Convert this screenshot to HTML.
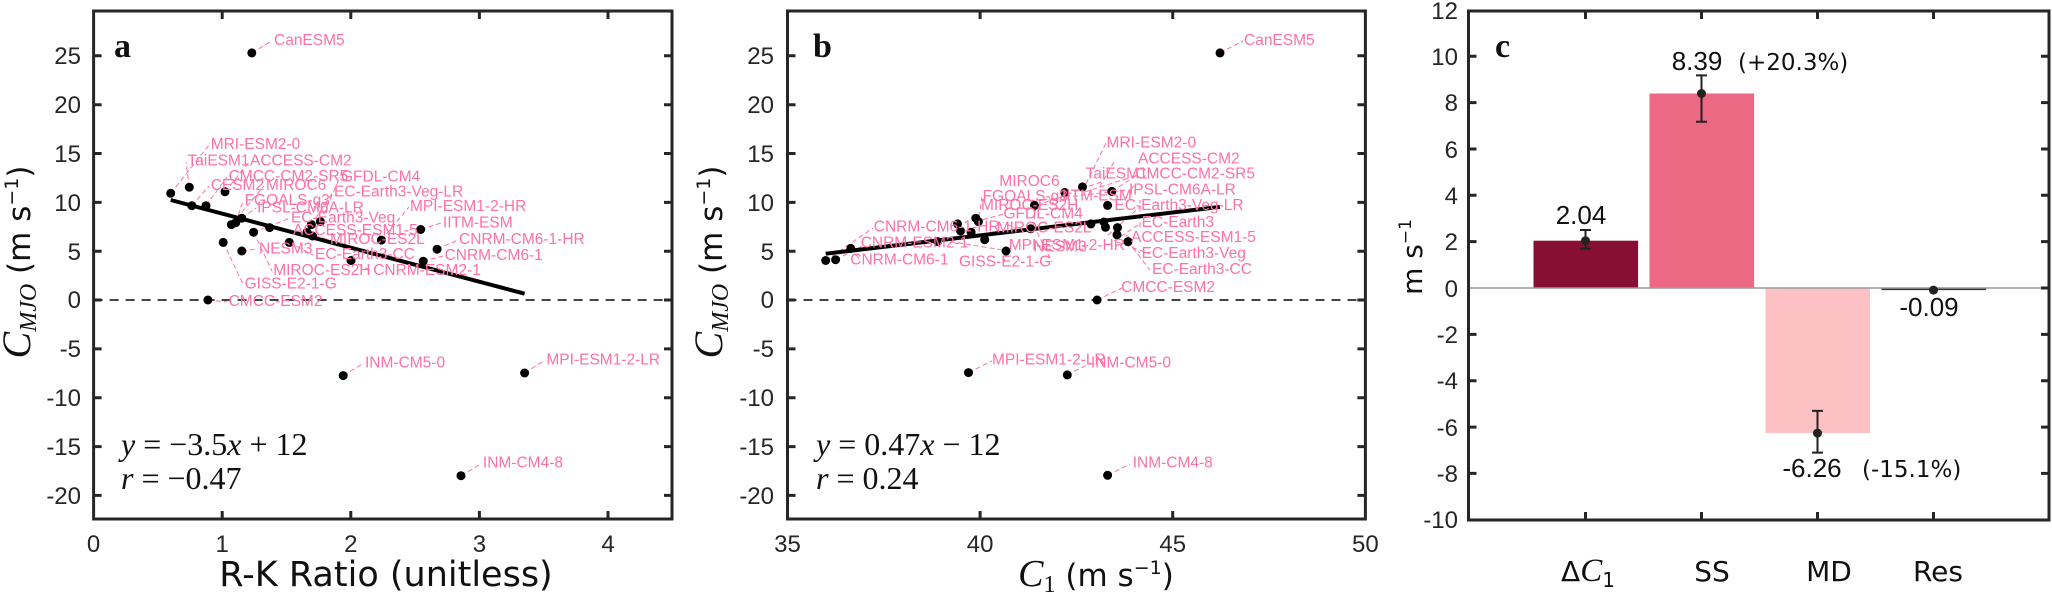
<!DOCTYPE html>
<html><head><meta charset="utf-8"><style>
body{margin:0;background:#fff;}
svg{display:block;}
.tk{font-family:"Liberation Sans",sans-serif;font-size:24px;fill:#262626;}
.lb{font-family:"Liberation Sans",sans-serif;font-size:15.5px;fill:#ff70a6;}
.sr{font-family:"Liberation Serif",serif;fill:#111;}
</style></head><body>
<svg width="2052" height="592" viewBox="0 0 2052 592" xmlns="http://www.w3.org/2000/svg">
<!-- ===== Panel a ===== -->
<g id="pa">
<line x1="93.6" y1="300" x2="672" y2="300" stroke="#444" stroke-width="2" stroke-dasharray="9,7"/>
<g stroke="#ff70a6" stroke-width="1" stroke-dasharray="5,3" fill="none">
<path d="M251.8 52.9 L272 40.8 M170.7 193.3 L209 145 M189.3 187.2 L186 162 M191.8 205.7 L209 186 M206 205.7 L227 177 M225 191.8 L249 162 M231.4 224.6 L264 186 M235.7 222.7 L243 201 M241.8 218.2 L256 208 M253.6 232.2 L290 218 M269.6 227.6 L291 231 M311.4 224.6 L333 192 M320.4 221.6 L340 177 M307.1 232.2 L329 240 M289.3 242.4 L313 255 M241.8 251 L258 249 M223.2 242.4 L243 284 M253.6 232.2 L272 271 M207.9 300 L227 302 M381.4 240.1 L409 207 M420.7 229.5 L441 223 M437.1 249.2 L458 240 M423.2 261.2 L443 256 M351 260.5 L372 271 M343.2 375.6 L364 363 M524.6 373 L545 360 M461 475.7 L481 464"/>
</g>
<line x1="170.7" y1="200" x2="524.6" y2="293.7" stroke="#000" stroke-width="4"/>
<g fill="#000">
<circle cx="170.7" cy="193.3" r="4.5"/><circle cx="189.3" cy="187.2" r="4.5"/><circle cx="191.8" cy="205.7" r="4.5"/><circle cx="206" cy="205.7" r="4.5"/><circle cx="225" cy="191.8" r="4.5"/><circle cx="231.4" cy="224.6" r="4.5"/><circle cx="235.7" cy="222.7" r="4.5"/><circle cx="241.8" cy="218.2" r="4.5"/><circle cx="253.6" cy="232.2" r="4.5"/><circle cx="269.6" cy="227.6" r="4.5"/><circle cx="223.2" cy="242.4" r="4.5"/><circle cx="241.8" cy="251" r="4.5"/><circle cx="289.3" cy="242.4" r="4.5"/><circle cx="307.1" cy="232.2" r="4.5"/><circle cx="311.4" cy="224.6" r="4.5"/><circle cx="320.4" cy="221.6" r="4.5"/><circle cx="312.5" cy="236" r="4.5"/><circle cx="351" cy="260.5" r="4.5"/><circle cx="381.4" cy="240.1" r="4.5"/><circle cx="420.7" cy="229.5" r="4.5"/><circle cx="437.1" cy="249.2" r="4.5"/><circle cx="423.2" cy="261.2" r="4.5"/><circle cx="207.9" cy="300" r="4.5"/><circle cx="251.8" cy="52.9" r="4.5"/><circle cx="343.2" cy="375.6" r="4.5"/><circle cx="524.6" cy="373" r="4.5"/><circle cx="461" cy="475.7" r="4.5"/>
</g>
<g class="lb" dominant-baseline="middle">
<text x="274" y="41">CanESM5</text><text x="210.7" y="145">MRI-ESM2-0</text><text x="187.5" y="161.6">TaiESM1</text><text x="250" y="161.6">ACCESS-CM2</text><text x="228.6" y="176.7">CMCC-CM2-SR5</text><text x="341" y="177.4">GFDL-CM4</text><text x="210.7" y="185.7">CESM2</text><text x="266" y="185.7">MIROC6</text><text x="334" y="192.5">EC-Earth3-Veg-LR</text><text x="244.6" y="200.8">FGOALS-g3</text><text x="257" y="208.4">IPSL-CM6A-LR</text><text x="410" y="206.9">MPI-ESM1-2-HR</text><text x="291" y="218.2">EC-Earth3-Veg</text><text x="442.9" y="223.5">IITM-ESM</text><text x="292.9" y="231">ACCESS-ESM1-5</text><text x="330" y="239.7">MIROC-ES2L</text><text x="459" y="239.7">CNRM-CM6-1-HR</text><text x="259" y="249.2">NESM3</text><text x="315" y="254.8">EC-Earth3-CC</text><text x="444.6" y="256">CNRM-CM6-1</text><text x="273.2" y="270.7">MIROC-ES2H</text><text x="373.2" y="270.7">CNRM-ESM2-1</text><text x="244.6" y="284.3">GISS-E2-1-G</text><text x="228.6" y="302">CMCC-ESM2</text><text x="365" y="363.2">INM-CM5-0</text><text x="546.4" y="360.5">MPI-ESM1-2-LR</text><text x="482.9" y="463.6">INM-CM4-8</text>
</g>
<rect x="93.6" y="11" width="578.4" height="508" fill="none" stroke="#262626" stroke-width="3"/>
<g stroke="#262626" stroke-width="3">
<path d="M93.6 55.8h8M93.6 104.7h8M93.6 153.5h8M93.6 202.4h8M93.6 251.2h8M93.6 300h8M93.6 348.9h8M93.6 397.7h8M93.6 446.6h8M93.6 495.4h8"/>
<path d="M672 55.8h-8M672 104.7h-8M672 153.5h-8M672 202.4h-8M672 251.2h-8M672 300h-8M672 348.9h-8M672 397.7h-8M672 446.6h-8M672 495.4h-8"/>
<path d="M222.2 519v-8M350.8 519v-8M479.4 519v-8M608 519v-8M222.2 11v8M350.8 11v8M479.4 11v8M608 11v8"/>
</g>
<g class="tk" text-anchor="end">
<text x="81" y="64">25</text><text x="81" y="113">20</text><text x="81" y="162">15</text><text x="81" y="211">10</text><text x="81" y="260">5</text><text x="81" y="308">0</text><text x="81" y="357">-5</text><text x="81" y="406">-10</text><text x="81" y="455">-15</text><text x="81" y="504">-20</text>
</g>
<g class="tk" text-anchor="middle">
<text x="93.6" y="552">0</text><text x="222.2" y="552">1</text><text x="350.8" y="552">2</text><text x="479.4" y="552">3</text><text x="608" y="552">4</text>
</g>
<text x="386" y="586" text-anchor="middle" font-family="'DejaVu Sans',sans-serif" font-size="35" fill="#111">R-K Ratio (unitless)</text>
<text transform="translate(30,262) rotate(-90)" text-anchor="middle" class="sr" font-size="30"><tspan font-style="italic" font-size="40">C</tspan><tspan font-style="italic" font-size="24" dy="6">MJO</tspan><tspan dy="-6" font-family="'DejaVu Sans',sans-serif" font-size="31"> (m s</tspan><tspan font-size="19" dy="-12" font-family="'DejaVu Sans',sans-serif">−1</tspan><tspan dy="12" font-family="'DejaVu Sans',sans-serif" font-size="31">)</tspan></text>
<text x="114" y="57" class="sr" font-size="34" font-weight="bold">a</text>
<text x="121" y="455" class="sr" font-size="32"><tspan font-style="italic">y</tspan> = −3.5<tspan font-style="italic">x</tspan> + 12</text>
<text x="121" y="489" class="sr" font-size="32"><tspan font-style="italic">r</tspan> = −0.47</text>
</g>

<!-- ===== Panel b ===== -->
<g id="pb">
<line x1="787.5" y1="300" x2="1365.4" y2="300" stroke="#444" stroke-width="2" stroke-dasharray="9,7"/>
<g stroke="#ff70a6" stroke-width="1" stroke-dasharray="5,3" fill="none">
<path d="M1220 52.9 L1243 41 M1082.5 190.8 L1106 143 M1099.7 187 L1115 160 M1084.7 192 L1138 175 M1112 191.4 L1137 175 M1036.7 205.4 L1101 182 M1041 200 L1127 190 M1134 186 L1129 191 M1140 227.4 L1140 200 M1033 227.4 L1037 200 M975 221.7 L1004 214 M978 225 L982 197 M1018 230 L1003 222 M992 232 L1001 231 M1108 235 L1141 206 M1114 241 L1141 223 M1126 234.9 L1130 238 M1117 242 L1150 254 M1125.7 241.6 L1140 253 M1128 241.6 L1150 270 M825.7 260.5 L873 228 M835.8 259.7 L864 245 M950 241.6 L1003 250 M1006 251 L1004 262 M1097 300 L1122 288 M968.5 372.6 L992 361 M1067 374.9 L1091 363 M1107.6 475.3 L1130 464 M850.8 248.4 L861 261 M1037 232.2 L1052 262"/>
</g>
<line x1="825.7" y1="253.7" x2="1220" y2="206.9" stroke="#000" stroke-width="4"/>
<g fill="#000">
<circle cx="825.7" cy="260.5" r="4.5"/><circle cx="835.6" cy="259.7" r="4.5"/><circle cx="850.8" cy="248.4" r="4.5"/><circle cx="937.6" cy="241.6" r="4.5"/><circle cx="957.5" cy="223.9" r="4.5"/><circle cx="960.6" cy="231" r="4.5"/><circle cx="971.1" cy="232.2" r="4.5"/><circle cx="975.8" cy="218.2" r="4.5"/><circle cx="978.4" cy="221.6" r="4.5"/><circle cx="984.7" cy="239.7" r="4.5"/><circle cx="1006.1" cy="251" r="4.5"/><circle cx="1030.7" cy="228.8" r="4.5"/><circle cx="1034.4" cy="205.4" r="4.5"/><circle cx="1064.7" cy="192.5" r="4.5"/><circle cx="1082.5" cy="186.9" r="4.5"/><circle cx="1090.9" cy="223.9" r="4.5"/><circle cx="1103.9" cy="222" r="4.5"/><circle cx="1105.5" cy="227.3" r="4.5"/><circle cx="1107.6" cy="205.4" r="4.5"/><circle cx="1111.8" cy="191.4" r="4.5"/><circle cx="1117.5" cy="227.6" r="4.5"/><circle cx="1117" cy="234.8" r="4.5"/><circle cx="1128" cy="241.6" r="4.5"/><circle cx="1097.1" cy="300" r="4.5"/><circle cx="1220" cy="52.9" r="4.5"/><circle cx="968.5" cy="372.6" r="4.5"/><circle cx="1067.3" cy="374.9" r="4.5"/><circle cx="1107.6" cy="475.3" r="4.5"/>
</g>
<g class="lb" dominant-baseline="middle">
<text x="1244" y="41">CanESM5</text><text x="1106.5" y="143.5">MRI-ESM2-0</text><text x="1138" y="159.3">ACCESS-CM2</text><text x="1085.6" y="174.4">TaiESM1</text><text x="1135.3" y="174.4">CMCC-CM2-SR5</text><text x="999.3" y="182">MIROC6</text><text x="1129" y="190.6">IPSL-CM6A-LR</text><text x="982.6" y="197">FGOALS-g3</text><text x="1062" y="196.3">IITM-ESM</text><text x="981" y="205.7">MIROC-ES2H</text><text x="1114.4" y="205.7">EC-Earth3-Veg-LR</text><text x="1003.5" y="214.4">GFDL-CM4</text><text x="1141.6" y="222.7">EC-Earth3</text><text x="873.8" y="227.6">CNRM-CM6-1-HR</text><text x="996.7" y="228.4">MIROC-ES2L</text><text x="1131" y="237.8">ACCESS-ESM1-5</text><text x="860.7" y="243.5">CNRM-ESM2-1</text><text x="1008.7" y="246.1">MPI-ESM1-2-HR</text><text x="1033.3" y="247.3">NESM3</text><text x="1141.6" y="253.7">EC-Earth3-Veg</text><text x="850.3" y="260.5">CNRM-CM6-1</text><text x="959" y="262.4">GISS-E2-1-G</text><text x="1152" y="269.9">EC-Earth3-CC</text><text x="1121.2" y="287.7">CMCC-ESM2</text><text x="992" y="360.5">MPI-ESM1-2-LR</text><text x="1090.9" y="363.2">INM-CM5-0</text><text x="1132.7" y="463.6">INM-CM4-8</text>
</g>
<rect x="787.5" y="11" width="577.9" height="508" fill="none" stroke="#262626" stroke-width="3"/>
<g stroke="#262626" stroke-width="3">
<path d="M787.5 55.8h8M787.5 104.7h8M787.5 153.5h8M787.5 202.4h8M787.5 251.2h8M787.5 300h8M787.5 348.9h8M787.5 397.7h8M787.5 446.6h8M787.5 495.4h8"/>
<path d="M1365.4 55.8h-8M1365.4 104.7h-8M1365.4 153.5h-8M1365.4 202.4h-8M1365.4 251.2h-8M1365.4 300h-8M1365.4 348.9h-8M1365.4 397.7h-8M1365.4 446.6h-8M1365.4 495.4h-8"/>
<path d="M980.1 519v-8M1172.7 519v-8M980.1 11v8M1172.7 11v8"/>
</g>
<g class="tk" text-anchor="end">
<text x="774" y="64">25</text><text x="774" y="113">20</text><text x="774" y="162">15</text><text x="774" y="211">10</text><text x="774" y="260">5</text><text x="774" y="308">0</text><text x="774" y="357">-5</text><text x="774" y="406">-10</text><text x="774" y="455">-15</text><text x="774" y="504">-20</text>
</g>
<g class="tk" text-anchor="middle">
<text x="787.5" y="552">35</text><text x="980.1" y="552">40</text><text x="1172.7" y="552">45</text><text x="1365.4" y="552">50</text>
</g>
<text x="1096" y="586" text-anchor="middle" class="sr" font-size="28"><tspan font-style="italic" font-size="38">C</tspan><tspan font-size="24" dy="6">1</tspan><tspan dy="-6" font-family="'DejaVu Sans',sans-serif" font-size="31"> (m s</tspan><tspan font-size="19" dy="-12" font-family="'DejaVu Sans',sans-serif">−1</tspan><tspan dy="12" font-family="'DejaVu Sans',sans-serif" font-size="31">)</tspan></text>
<text transform="translate(722,262) rotate(-90)" text-anchor="middle" class="sr" font-size="30"><tspan font-style="italic" font-size="40">C</tspan><tspan font-style="italic" font-size="24" dy="6">MJO</tspan><tspan dy="-6" font-family="'DejaVu Sans',sans-serif" font-size="31"> (m s</tspan><tspan font-size="19" dy="-12" font-family="'DejaVu Sans',sans-serif">−1</tspan><tspan dy="12" font-family="'DejaVu Sans',sans-serif" font-size="31">)</tspan></text>
<text x="813" y="57" class="sr" font-size="34" font-weight="bold">b</text>
<text x="816" y="455" class="sr" font-size="32"><tspan font-style="italic">y</tspan> = 0.47<tspan font-style="italic">x</tspan> − 12</text>
<text x="816" y="489" class="sr" font-size="32"><tspan font-style="italic">r</tspan> = 0.24</text>
</g>

<!-- ===== Panel c ===== -->
<g id="pc">
<rect x="1533.5" y="240.7" width="104.6" height="47.3" fill="#870f35"/>
<rect x="1649.5" y="93.5" width="104.6" height="194.5" fill="#ec6883"/>
<rect x="1765.5" y="288" width="104.6" height="145.1" fill="#fec1c3"/>
<rect x="1881.5" y="288" width="104.6" height="2.1" fill="#333"/>
<line x1="1468.5" y1="288" x2="2049" y2="288" stroke="#999" stroke-width="1.5"/>
<g stroke="#222" stroke-width="2" fill="none">
<path d="M1585.5 230v18.6M1580 230h11M1580 248.6h11"/>
<path d="M1701.5 75.4v46.4M1696 75.4h11M1696 121.8h11"/>
<path d="M1817.5 410.9v41.7M1812 410.9h11M1812 452.6h11"/>
</g>
<g fill="#222">
<circle cx="1585.5" cy="240.7" r="4.5"/><circle cx="1701.5" cy="93.5" r="4.5"/><circle cx="1817.5" cy="433.1" r="4.5"/><circle cx="1933.5" cy="290.1" r="4.5"/>
</g>
<rect x="1468.5" y="11" width="580.5" height="509" fill="none" stroke="#262626" stroke-width="3"/>
<g stroke="#262626" stroke-width="3">
<path d="M1468.5 56.2h8M1468.5 102.6h8M1468.5 149h8M1468.5 195.3h8M1468.5 241.6h8M1468.5 334.4h8M1468.5 380.7h8M1468.5 427.1h8M1468.5 473.4h8"/>
<path d="M2049 56.2h-8M2049 102.6h-8M2049 149h-8M2049 195.3h-8M2049 241.6h-8M2049 288h-8M2049 334.4h-8M2049 380.7h-8M2049 427.1h-8M2049 473.4h-8"/>
<path d="M1585.5 520v-8M1701.5 520v-8M1817.5 520v-8M1933.5 520v-8M1585.5 11v8M1701.5 11v8M1817.5 11v8M1933.5 11v8"/>
</g>
<g class="tk" text-anchor="end">
<text x="1458" y="19">12</text><text x="1458" y="65">10</text><text x="1458" y="111">8</text><text x="1458" y="158">6</text><text x="1458" y="204">4</text><text x="1458" y="250">2</text><text x="1458" y="297">0</text><text x="1458" y="343">-2</text><text x="1458" y="389">-4</text><text x="1458" y="436">-6</text><text x="1458" y="482">-8</text><text x="1458" y="528">-10</text>
</g>
<text transform="translate(1422,257) rotate(-90)" text-anchor="middle" font-family="'DejaVu Sans',sans-serif" font-size="28" fill="#111">m s<tspan font-size="17" dy="-11">−1</tspan></text>
<text x="1495" y="57" class="sr" font-size="34" font-weight="bold">c</text>
<g font-family="'Liberation Sans',sans-serif" font-size="26" fill="#111" text-anchor="middle">
<text x="1581" y="224">2.04</text><text x="1697" y="70">8.39</text><text x="1929" y="316">-0.09</text><text x="1812" y="477">-6.26</text>
</g>
<g font-family="'DejaVu Sans',sans-serif" font-size="23" fill="#111">
<text x="1738" y="70">(+20.3%)</text><text x="1862" y="477">(-15.1%)</text>
</g>
<g font-family="'DejaVu Sans',sans-serif" font-size="28" fill="#111" text-anchor="middle">
<text x="1588" y="581">Δ<tspan font-family="'Liberation Serif',serif" font-style="italic" font-size="33">C</tspan><tspan font-size="20" dy="6">1</tspan></text>
<text x="1712" y="581">SS</text><text x="1829" y="581">MD</text><text x="1938" y="581">Res</text>
</g>
</g>
</svg>
</body></html>
